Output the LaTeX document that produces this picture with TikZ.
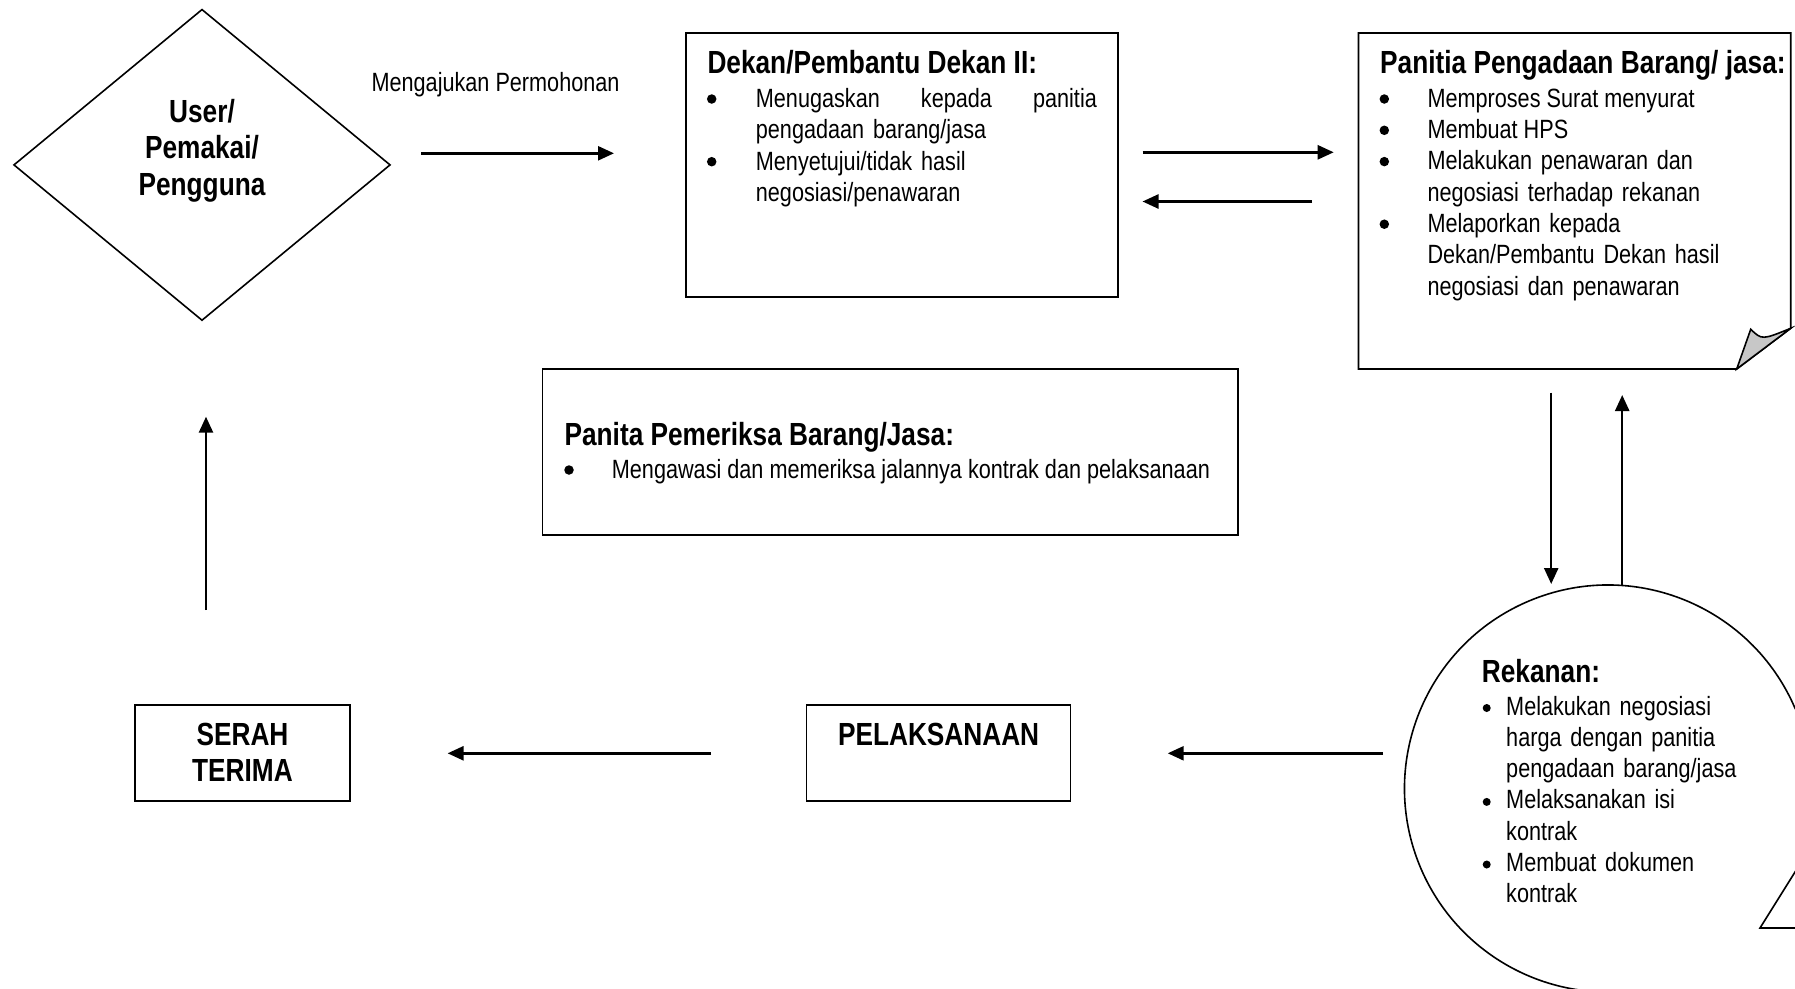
\documentclass[tikz,border=0pt]{standalone}
\usepackage{fontspec}
\setmainfont{Liberation Sans}[FakeStretch=0.82]
\usetikzlibrary{arrows.meta,shapes.geometric}
\begin{document}
\begin{tikzpicture}[x=1pt,y=-1pt,
  bodytxt/.style={font=\fontsize{26.4}{31.3}\selectfont, inner sep=0pt, anchor=base west},
  titletxt/.style={font=\fontsize{32}{36.6}\selectfont\bfseries, inner sep=0pt, anchor=base west},
  bigtxt/.style={font=\fontsize{32}{36.6}\selectfont\bfseries, inner sep=0pt, anchor=base, align=center},
  bulletdot/.style={circle, fill=black, draw=none, inner sep=0pt, minimum size=9.5pt},
  smalldot/.style={circle, fill=black, draw=none, inner sep=0pt, minimum size=8pt},
  frame/.style={draw, line width=1.6pt, inner sep=0pt},
  outline/.style={line width=1.6pt},
  flow/.style={line width=2.5pt, -{Triangle[length=16pt,width=14pt]}},
]
\useasboundingbox[fill=white] (0,0) rectangle (1795,988);

% User diamond
\node[frame, diamond, minimum width=376.7pt, minimum height=311.3pt] (user) at (202,164.9) {};
\node[bigtxt, text width=300pt] (usertext) at (202,122) {User/\\Pemakai/\\Pengguna};

\node[bodytxt] (req) at (371.4,91.7) {Mengajukan Permohonan};
\coordinate (a1s) at (421,153.3);
\coordinate (a1e) at (614,153.3);
\draw[flow] (a1s) -- (a1e);

% Dekan box
\node[frame, minimum width=432pt, minimum height=264pt] (dekan) at (902,165) {};
\node[titletxt] (dekantitle) at (707.3,73.3) {Dekan/Pembantu Dekan II:};
\node[bulletdot] (db1) at (711.7,99) {};
\node[bodytxt, text width=341pt] (dt1) at (755.7,107.3) {\hbox to 341pt{Menugaskan\hfill kepada\hfill panitia}\\pengadaan barang/jasa};
\node[bulletdot] (db2) at (711.7,161.7) {};
\node[bodytxt, text width=341pt] (dt2) at (755.7,170) {Menyetujui/tidak hasil\\negosiasi/penawaran};

% arrows Dekan <-> Panitia
\coordinate (a2s) at (1142.5,152.3);
\coordinate (a2e) at (1333.7,152.3);
\coordinate (a3s) at (1312,201.5);
\coordinate (a3e) at (1142.5,201.5);
\draw[flow] (a2s) -- (a2e);
\draw[flow] (a3s) -- (a3e);

% Panitia box with folded corner
\draw[outline] (1358.5,33) -- (1790.7,33) -- (1790.7,328.3) -- (1736.7,369) -- (1358.5,369) -- cycle;
\filldraw[outline, fill=black!22] (1736.7,369) -- (1750.7,329.3) .. controls (1762,340) .. (1790.7,328.3) -- cycle;
\node[titletxt] (pantitle) at (1380,73.3) {Panitia Pengadaan Barang/ jasa:};
\node[bulletdot] (pb1) at (1384.3,99) {};
\node[bodytxt] (pt1) at (1427.3,107.3) {Memproses Surat menyurat};
\node[bulletdot] (pb2) at (1384.3,130.3) {};
\node[bodytxt] (pt2) at (1427.3,138.6) {Membuat HPS};
\node[bulletdot] (pb3) at (1384.3,161.6) {};
\node[bodytxt, text width=340pt] (pt3) at (1427.3,169.9) {Melakukan penawaran dan\\negosiasi terhadap rekanan};
\node[bulletdot] (pb4) at (1384.3,224.2) {};
\node[bodytxt, text width=340pt] (pt4) at (1427.3,232.5) {Melaporkan kepada\\Dekan/Pembantu Dekan hasil\\negosiasi dan penawaran};

% Pemeriksa box
\node[frame, minimum width=695.5pt, minimum height=166pt] (periksa) at (890.25,452) {};
\node[titletxt] (pertitle) at (564.4,445) {Panita Pemeriksa Barang/Jasa:};
\node[bulletdot] (perb1) at (569,470) {};
\node[bodytxt] (pert1) at (611.7,478.3) {Mengawasi dan memeriksa jalannya kontrak dan pelaksanaan};

% vertical arrows Panitia <-> Rekanan
\coordinate (a4s) at (1551.2,392.7);
\coordinate (a4e) at (1551.2,584);
\coordinate (a5s) at (1622.2,586);
\coordinate (a5e) at (1622.2,395);
\draw[flow] (a4s) -- (a4e);
\draw[flow] (a5s) -- (a5e);

% Rekanan callout
\coordinate (rekc) at (1608,788.5);
\draw[outline] (rekc) ++(-23:203.5) arc[start angle=-23, end angle=-268, radius=203.5];
\coordinate (tailtop) at (1800,864);
\coordinate (tailtip) at (1760,928);
\coordinate (tailbot) at (1800,928);
\draw[outline] (tailtop) -- (tailtip) -- (tailbot);
\node[titletxt] (rektitle) at (1481.7,682.3) {Rekanan:};
\node[smalldot] (rb1) at (1486.7,708) {};
\node[bodytxt, text width=300pt] (rt1) at (1506,715) {Melakukan negosiasi\\harga dengan panitia\\pengadaan barang/jasa};
\node[smalldot] (rb2) at (1486.7,801.9) {};
\node[bodytxt, text width=300pt] (rt2) at (1506,808.9) {Melaksanakan isi\\kontrak};
\node[smalldot] (rb3) at (1486.7,864.5) {};
\node[bodytxt, text width=300pt] (rt3) at (1506,871.5) {Membuat dokumen\\kontrak};

% bottom row
\node[frame, minimum width=264pt, minimum height=96pt] (pelak) at (938.6,753) {};
\node[bigtxt] (pelaktext) at (938.6,745) {PELAKSANAAN};
\node[frame, minimum width=215pt, minimum height=96pt] (serah) at (242.5,753) {};
\node[bigtxt, text width=200pt] (serahtext) at (242.5,745) {SERAH\\TERIMA};

\coordinate (a6s) at (1383,753.3);
\coordinate (a6e) at (1167.7,753.3);
\coordinate (a7s) at (711,753.3);
\coordinate (a7e) at (447.6,753.3);
\draw[flow] (a6s) -- (a6e);
\draw[flow] (a7s) -- (a7e);

\coordinate (a8s) at (206,610);
\coordinate (a8e) at (206,416.7);
\draw[flow] (a8s) -- (a8e);
\end{tikzpicture}
\end{document}
